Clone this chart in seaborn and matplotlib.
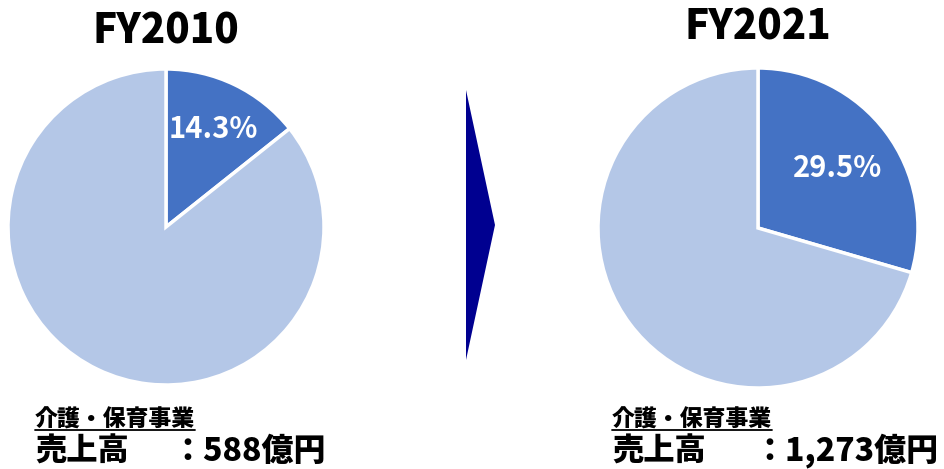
import matplotlib
matplotlib.use("Agg")
import matplotlib.pyplot as plt
from matplotlib.patches import Polygon
from matplotlib.lines import Line2D
import seaborn as sns

sns.set_theme(style="white")
plt.rcParams["font.family"] = ["Noto Sans CJK JP", "DejaVu Sans"]

# Share of the care/childcare business in total sales
years = ["FY2010", "FY2021"]
care_share = [14.3, 29.5]          # %
other_share = [85.7, 70.5]         # %
segment_label = "介護・保育事業"
sales_label = "売上高"
sales_values = ["：588億円", "：1,273億円"]

dark = "#4472C4"
light = "#B4C7E7"

W, H = 944, 469
fig = plt.figure(figsize=(W / 100, H / 100), dpi=100)

def fx(px):
    return px / W

def fy(py):
    return 1 - py / H

# pie geometry (centre x, centre y, radius) in pixels
pies = [(166, 227, 158), (758, 228, 160)]
pct_dist = [0.69, 0.62]
title_y = [31, 27]
text_x = [35, 612]
colon_x = [171, 753]

for i, (cx, cy, r) in enumerate(pies):
    ax = fig.add_axes([fx(cx - r), fy(cy + r), fx(2 * r), (2 * r) / H])
    vals = [care_share[i], other_share[i]]
    wedges, _, autotexts = ax.pie(
        vals,
        colors=[dark, light],
        startangle=90,
        counterclock=False,
        autopct=lambda p: f"{p:.1f}%" if p < 50 else "",
        pctdistance=pct_dist[i],
        wedgeprops=dict(edgecolor="white", linewidth=2.5),
        textprops=dict(color="white", fontsize=21, fontweight="bold"),
    )
    ax.set_aspect("equal")
    ax.set_xlim(-1, 1)
    ax.set_ylim(-1, 1)
    ax.axis("off")

    fig.text(fx(cx), fy(title_y[i]), years[i], ha="center", va="center",
             fontsize=29, fontweight="heavy", color="black")

    seg = fig.text(fx(text_x[i]), fy(420), segment_label, ha="left", va="center",
                   fontsize=16.5, fontweight="heavy", color="black")
    fig.text(fx(text_x[i]), fy(451), sales_label, ha="left", va="center",
             fontsize=22.5, fontweight="heavy", color="black")
    fig.text(fx(colon_x[i]), fy(451), sales_values[i], ha="left", va="center",
             fontsize=23, fontweight="heavy", color="black")

    # underline beneath the segment name
    fig.canvas.draw()
    bb = seg.get_window_extent()
    fig.add_artist(Line2D([bb.x0 / W, bb.x1 / W], [fy(430), fy(430)],
                          transform=fig.transFigure, color="black", linewidth=1.3))

# arrow between the two years
arrow = Polygon([(fx(466), fy(90)), (fx(466), fy(360)), (fx(495), fy(225))],
                closed=True, transform=fig.transFigure, facecolor="#000090",
                edgecolor="none")
fig.add_artist(arrow)

fig.savefig("out.png", dpi=100, facecolor="white")
